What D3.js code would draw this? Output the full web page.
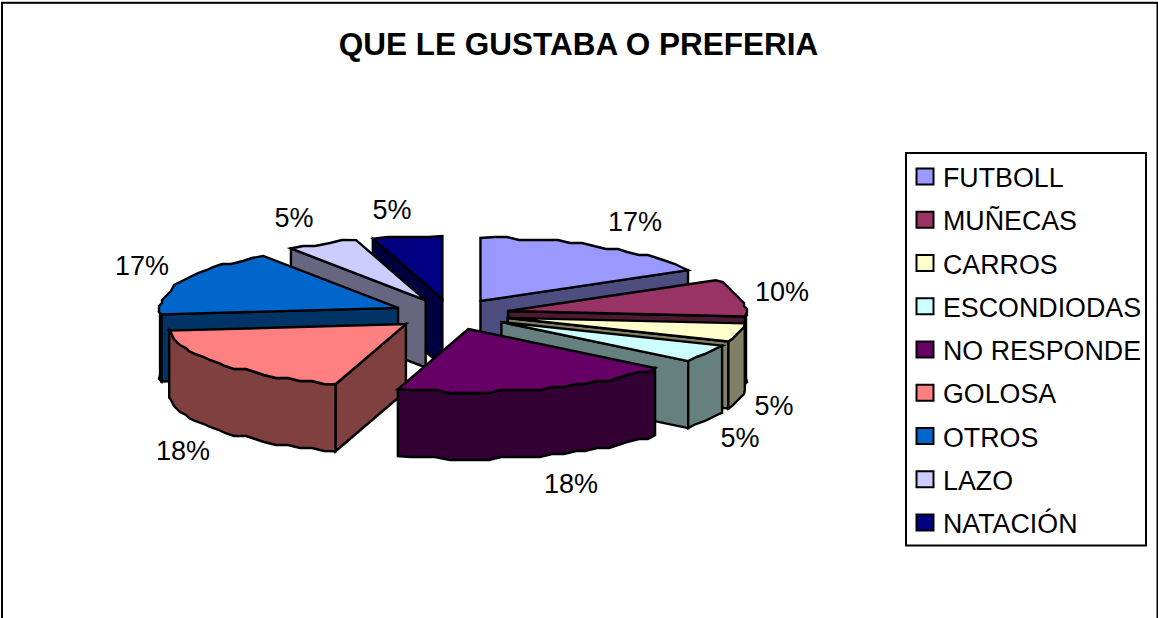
<!DOCTYPE html>
<html><head><meta charset="utf-8">
<script src="https://cdn.jsdelivr.net/npm/d3@7"></script>
<style>html,body{margin:0;background:#fff}svg{display:block}text{font-family:"Liberation Sans",Arial,sans-serif;fill:#000}</style>
</head><body><script>
const categories = ["FUTBOLL","MUÑECAS","CARROS","ESCONDIODAS","NO RESPONDE","GOLOSA","OTROS","LAZO","NATACIÓN"];
// Apparent shares of the circle as drawn (the reference's 3-D view distorts them slightly)
const values = [16.86,9.53,4.72,4.53,19.14,18.56,17.08,4.86,4.72];
const percentLabels = ["17%","10%","5%","5%","18%","18%","17%","5%","5%"];
const colors = ["#9999FF","#993366","#FFFFCC","#CCFFFF","#660066","#FF8080","#0066CC","#CCCCFF","#000080"];
const labelAnchors = [[635,222],[782,292],[774,406],[740,438],[571,484],[183,451],[142,266],[294,218],[392,210]];
const title = "QUE LE GUSTABA O PREFERIA";

const W=1158,H=618, cx=451, cy=314.3, rx=238, ry=63, depth=67, explode=0.245, grid=3;
const svg=d3.select("body").append("svg").attr("width",W).attr("height",H);
svg.append("rect").attr("x",2).attr("y",2.8).attr("width",1155.5).attr("height",H+10).attr("fill","#fff").attr("stroke","#000").attr("stroke-width",2);
svg.append("text").attr("x",578.5).attr("y",55).attr("text-anchor","middle").attr("font-size",31.5).attr("font-weight","bold").text(title);

const pie=d3.pie().sort(null).value(d=>d.value);
const slices=pie(categories.map((c,i)=>({cat:c,value:values[i],color:colors[i]})));
const line=d3.line();
const proj=(a,ax,ay)=>[ax+rx*Math.sin(a),ay-ry*Math.cos(a)];
const q=v=>Math.round(v/grid)*grid;
function rim(a0,a1,ax,ay){
  const n=Math.max(1,Math.round((a1-a0)/(3.2*Math.PI/180))),pts=[];
  for(let i=0;i<=n;i++){
    const p=proj(a0+(a1-a0)*i/n,ax,ay);
    pts.push(i===0||i===n?p:[q(p[0]),q(p[1])]);
  }
  return pts;
}
const ordered=slices.map(s=>{
  const mid=(s.startAngle+s.endAngle)/2;
  return {...s,mid,ax:cx+explode*rx*Math.sin(mid),ay:cy-explode*ry*Math.cos(mid)};
}).sort((a,b)=>d3.ascending(-Math.cos(a.mid),-Math.cos(b.mid)));

const g=svg.append("g").attr("stroke","#000").attr("stroke-width",2.4).attr("stroke-linejoin","miter");
ordered.forEach(s=>{
  const a0=s.startAngle,a1=s.endAngle,base=d3.rgb(s.data.color);
  const wall=d3.rgb(base.r*.5,base.g*.5,base.b*.5).formatHex();
  const radial=a=>{
    const p=proj(a,s.ax,s.ay);
    g.append("path").attr("fill",wall).attr("d",line([[s.ax,s.ay],p,[p[0],p[1]+depth],[s.ax,s.ay+depth]])+"Z");
  };
  if(a0>Math.PI) radial(a0);
  if(a1<Math.PI) radial(a1);
  const r0=Math.max(a0,Math.PI/2),r1=Math.min(a1,1.5*Math.PI);
  if(r1>r0){
    const top=rim(r0,r1,s.ax,s.ay);
    const bottom=top.map(p=>[p[0],p[1]+depth]).reverse();
    g.append("path").attr("fill",wall).attr("d",line(top.concat(bottom))+"Z");
  }
  g.append("path").attr("fill",s.data.color).attr("d",line([[s.ax,s.ay],...rim(a0,a1,s.ax,s.ay)])+"Z");
});

slices.forEach((s,i)=>{
  svg.append("text").attr("x",labelAnchors[i][0]).attr("y",labelAnchors[i][1]+9)
    .attr("text-anchor","middle").attr("font-size",27).text(percentLabels[i]);
});

const legend=svg.append("g");
legend.append("rect").attr("x",906).attr("y",153).attr("width",240).attr("height",392.5).attr("fill","#fff").attr("stroke","#000").attr("stroke-width",2);
const rowY=d3.scalePoint().domain(categories).range([177,523]);
categories.forEach((c,i)=>{
  const y=rowY(c);
  legend.append("rect").attr("x",916.5).attr("y",y-8.5).attr("width",17).attr("height",16).attr("fill",colors[i]).attr("stroke","#000").attr("stroke-width",2);
  legend.append("text").attr("x",943).attr("y",y+10).attr("font-size",26.8).text(c);
});
</script></body></html>
